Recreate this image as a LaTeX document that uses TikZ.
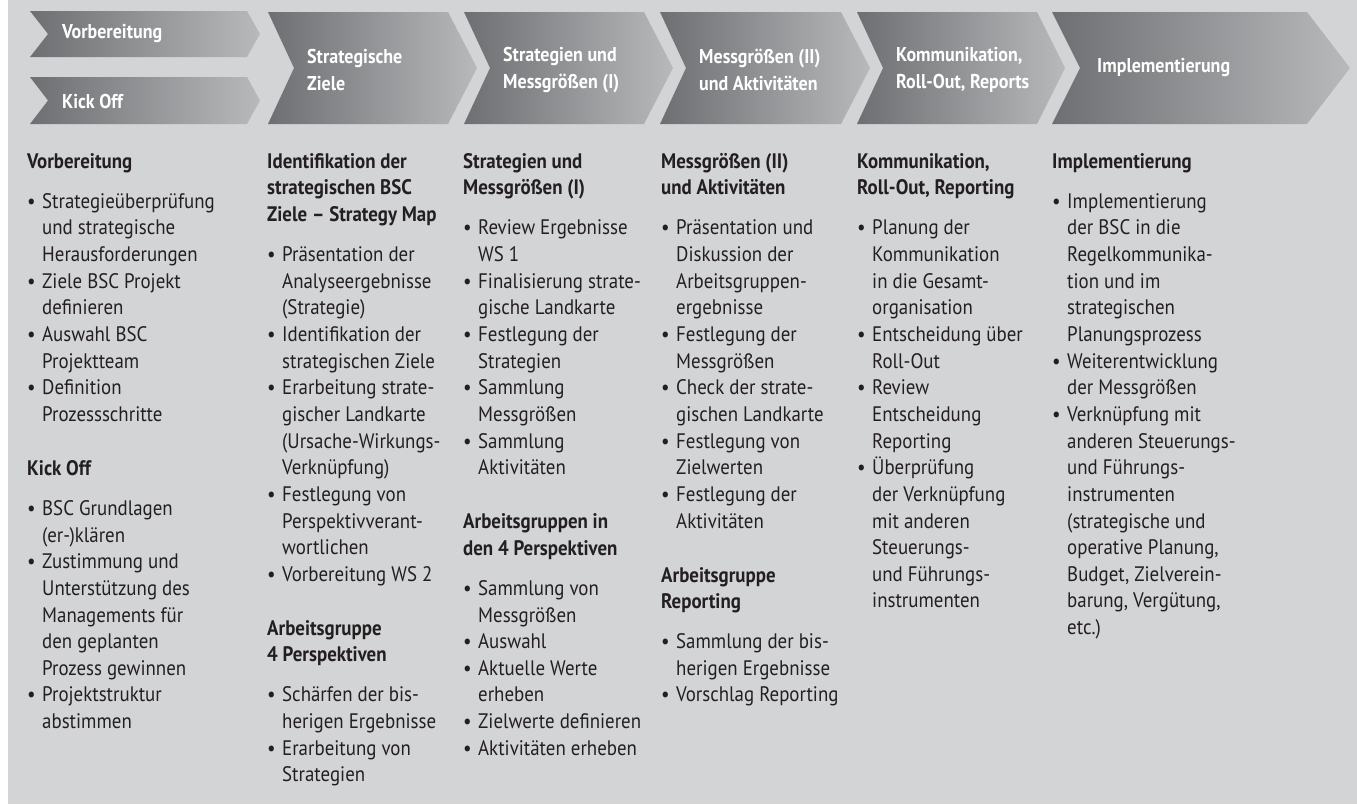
\documentclass[tikz,border=0pt]{standalone}
\usepackage{fontspec}
\setmainfont[FakeStretch=0.9]{PT Sans}
\definecolor{bg}{HTML}{D3D4D6}
\definecolor{chevL}{HTML}{6E6F72}
\definecolor{chevR}{HTML}{B8B9BB}
\definecolor{ink}{HTML}{231F20}
\newcommand\bu{\makebox[15pt][l]{\textbullet}}
\newcommand\ct{\hspace*{15pt}}
\newcommand\hg{\\[13.35pt]}
\newcommand\bg{\\[27.35pt]}
\tikzset{
  chev/.style={left color=chevL, right color=chevR, draw=none},
  chevtext/.style={text=white, font=\bfseries\fontsize{20}{27}\selectfont, align=left, inner sep=0pt, anchor=west},
  col/.style={text=ink, font=\fontsize{21}{26.65}\selectfont, align=left, inner sep=0pt, anchor=north west},
}
\begin{document}
\begin{tikzpicture}[x=1pt,y=-1pt]
\useasboundingbox (0,0) rectangle (1357,804);
\fill[white] (0,0) rectangle (1357,804);
\fill[bg] (8,0) rectangle (1357,804);
% small chevrons
\shade[chev] (30,11) -- (247,11) -- (260,34) -- (247,57) -- (30,57) -- (48,34) -- cycle;
\shade[chev] (30,77) -- (247,77) -- (260,100.5) -- (247,124) -- (30,124) -- (48,100.5) -- cycle;
% big chevrons
\shade[chev] (268,12) -- (448,12) -- (477,68) -- (448,124) -- (268,124) -- (294,68) -- cycle;
\shade[chev] (464,12) -- (644,12) -- (673,68) -- (644,124) -- (464,124) -- (490,68) -- cycle;
\shade[chev] (660,12) -- (841,12) -- (870,68) -- (841,124) -- (660,124) -- (686,68) -- cycle;
\shade[chev] (857,12) -- (1037,12) -- (1065,68) -- (1037,124) -- (857,124) -- (883,68) -- cycle;
\shade[chev] (1052,12) -- (1307,12) -- (1350,68) -- (1307,124) -- (1052,124) -- (1080,68) -- cycle;
% chevron labels
\node[chevtext] (h0a) at (62,34) {Vorbereitung};
\node[chevtext] (h0b) at (62,101) {Kick Off};
\node[chevtext] (h1) at (307,70) {Strategische\\Ziele};
\node[chevtext] (h2) at (503,70) {Strategien und\\Messgrößen (I)};
\node[chevtext] (h3) at (699,70) {Messgrößen (II)\\und Aktivitäten};
\node[chevtext] (h4) at (896,70) {Kommunikation,\\Roll-Out, Reports};
\node[chevtext] (h5) at (1097,68) {Implementierung};
% columns
\node[col] (c1) at (27,149.35) {\strut\textbf{Vorbereitung}\hg
\bu Strategieüberprüfung\\ \ct und strategische\\ \ct Herausforderungen\\
\bu Ziele BSC Projekt\\ \ct definieren\\
\bu Auswahl BSC\\ \ct Projektteam\\
\bu Definition\\ \ct Prozessschritte\bg
\textbf{Kick Off}\hg
\bu BSC Grundlagen\\ \ct (er-)klären\\
\bu Zustimmung und\\ \ct Unterstützung des\\ \ct Managements für\\ \ct den geplanten\\ \ct Prozess gewinnen\\
\bu Projektstruktur\\ \ct abstimmen};
\node[col] (c2) at (267,149.35) {\strut\textbf{Identifikation der}\\ \textbf{strategischen BSC}\\ \textbf{Ziele – Strategy Map}\hg
\bu Präsentation der\\ \ct Analyseergebnisse\\ \ct (Strategie)\\
\bu Identifikation der\\ \ct strategischen Ziele\\
\bu Erarbeitung strate-\\ \ct gischer Landkarte\\ \ct (Ursache-Wirkungs-\\ \ct Verknüpfung)\\
\bu Festlegung von\\ \ct Perspektivverant-\\ \ct wortlichen\\
\bu Vorbereitung WS 2\bg
\textbf{Arbeitsgruppe}\\ \textbf{4 Perspektiven}\hg
\bu Schärfen der bis-\\ \ct herigen Ergebnisse\\
\bu Erarbeitung von\\ \ct Strategien};
\node[col] (c3) at (463,149.35) {\strut\textbf{Strategien und}\\ \textbf{Messgrößen (I)}\hg
\bu Review Ergebnisse\\ \ct WS 1\\
\bu Finalisierung strate-\\ \ct gische Landkarte\\
\bu Festlegung der\\ \ct Strategien\\
\bu Sammlung\\ \ct Messgrößen\\
\bu Sammlung\\ \ct Aktivitäten\bg
\textbf{Arbeitsgruppen in}\\ \textbf{den 4 Perspektiven}\hg
\bu Sammlung von\\ \ct Messgrößen\\
\bu Auswahl\\
\bu Aktuelle Werte\\ \ct erheben\\
\bu Zielwerte definieren\\
\bu Aktivitäten erheben};
\node[col] (c4) at (661,149.35) {\strut\textbf{Messgrößen (II)}\\ \textbf{und Aktivitäten}\hg
\bu Präsentation und\\ \ct Diskussion der\\ \ct Arbeitsgruppen-\\ \ct ergebnisse\\
\bu Festlegung der\\ \ct Messgrößen\\
\bu Check der strate-\\ \ct gischen Landkarte\\
\bu Festlegung von\\ \ct Zielwerten\\
\bu Festlegung der\\ \ct Aktivitäten\bg
\textbf{Arbeitsgruppe}\\ \textbf{Reporting}\hg
\bu Sammlung der bis-\\ \ct herigen Ergebnisse\\
\bu Vorschlag Reporting};
\node[col] (c5) at (857,149.35) {\strut\textbf{Kommunikation,}\\ \textbf{Roll-Out, Reporting}\hg
\bu Planung der\\ \ct Kommunikation\\ \ct in die Gesamt-\\ \ct organisation\\
\bu Entscheidung über\\ \ct Roll-Out\\
\bu Review\\ \ct Entscheidung\\ \ct Reporting\\
\bu Überprüfung\\ \ct der Verknüpfung\\ \ct mit anderen\\ \ct Steuerungs-\\ \ct und Führungs-\\ \ct instrumenten};
\node[col] (c6) at (1052,149.35) {\strut\textbf{Implementierung}\hg
\bu Implementierung\\ \ct der BSC in die\\ \ct Regelkommunika-\\ \ct tion und im\\ \ct strategischen\\ \ct Planungsprozess\\
\bu Weiterentwicklung\\ \ct der Messgrößen\\
\bu Verknüpfung mit\\ \ct anderen Steuerungs-\\ \ct und Führungs-\\ \ct instrumenten\\ \ct (strategische und\\ \ct operative Planung,\\ \ct Budget, Zielverein-\\ \ct barung, Vergütung,\\ \ct etc.)};
\end{tikzpicture}
\end{document}
